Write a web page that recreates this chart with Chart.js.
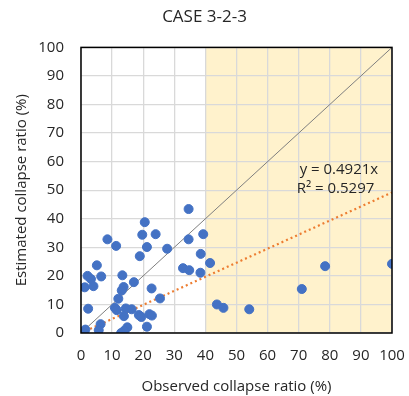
<!DOCTYPE html>
<html>
<head>
<meta charset="utf-8">
<script src="https://cdn.jsdelivr.net/npm/chart.js@4.4.0/dist/chart.umd.min.js"></script>
<style>
  html, body { margin: 0; padding: 0; background: #fff; }
  #wrap { width: 409px; height: 396px; }
</style>
</head>
<body>
<div id="wrap"><canvas id="chart" width="409" height="396"></canvas></div>
<script>
// observed (%) vs estimated (%) collapse ratio
const observed = [
  34.6, 20.5, 19.7, 24.0, 8.5, 11.3, 21.2, 27.7, 34.6, 39.3,
  38.5, 18.9, 5.1, 32.8, 34.8, 38.4, 2.1, 3.2, 6.5, 1.2,
  4.0, 13.3, 17.0, 13.7, 13.1, 22.7, 12.0, 25.4, 2.3, 10.9,
  11.5, 14.4, 16.3, 13.8, 18.6, 19.4, 22.0, 22.8, 6.3, 5.7,
  1.4, 0.7, 14.9, 13.9, 12.9, 21.2, 41.5, 43.7, 45.8, 54.1,
  71.0, 78.5, 100.0
];
const estimated = [
  43.4, 38.8, 34.4, 34.6, 32.8, 30.5, 30.1, 29.5, 32.8, 34.6,
  27.7, 26.9, 23.7, 22.7, 22.0, 21.1, 20.0, 18.9, 19.8, 16.0,
  16.4, 20.2, 17.8, 16.1, 14.9, 15.6, 12.0, 12.1, 8.5, 8.8,
  8.0, 8.6, 8.3, 5.9, 6.3, 5.6, 6.6, 6.1, 3.1, 1.0,
  1.2, 0.0, 2.0, 0.8, 0.0, 2.2, 24.5, 10.0, 8.8, 8.3,
  15.4, 23.4, 24.2
];
const slope = 0.4921;
const rSquared = 0.5297;
const axisTicks = [0, 10, 20, 30, 40, 50, 60, 70, 80, 90, 100];
const shadeFrom = 40;

const font = "'Open Sans', 'Liberation Sans', sans-serif";
const points = observed.map((x, i) => ({ x: x, y: estimated[i] }));

const shading = {
  id: "shading",
  beforeDraw(chart) {
    const { ctx, chartArea, scales } = chart;
    const x0 = scales.x.getPixelForValue(shadeFrom);
    ctx.save();
    ctx.fillStyle = "#FFF2CC";
    ctx.fillRect(x0, chartArea.top, chartArea.right - x0, chartArea.bottom - chartArea.top);
    ctx.restore();
  },
  afterDatasetsDraw(chart) {
    const { ctx, chartArea, scales } = chart;
    ctx.save();
    ctx.strokeStyle = "#000";
    ctx.lineWidth = 1.5;
    ctx.strokeRect(chartArea.left, chartArea.top, chartArea.right - chartArea.left, chartArea.bottom - chartArea.top);
    ctx.fillStyle = "#262626";
    ctx.font = "15px " + font;
    ctx.textBaseline = "middle";
    const tx = scales.x.getPixelForValue(70.3);
    ctx.fillText("y = " + slope + "x", tx, scales.y.getPixelForValue(57));
    ctx.fillText("R\u00b2 = " + rSquared, tx - 3, scales.y.getPixelForValue(50.6));
    ctx.restore();
  }
};

new Chart(document.getElementById("chart"), {
  type: "scatter",
  data: {
    datasets: [
      {
        label: "data",
        data: points,
        backgroundColor: "#4472C4",
        borderColor: "#4472C4",
        pointRadius: 4.5,
        order: 0,
      },
      {
        label: "1:1",
        type: "line",
        data: [{ x: 0, y: 0 }, { x: 100, y: 100 }],
        borderColor: "#7F7F7F",
        borderWidth: 1,
        pointRadius: 0,
        order: 2,
      },
      {
        label: "trend",
        type: "line",
        data: [{ x: 0, y: 0 }, { x: 100, y: slope * 100 }],
        borderColor: "#ED7D31",
        borderWidth: 2.2,
        borderDash: [2, 3],
        pointRadius: 0,
        order: 1,
      },
    ],
  },
  options: {
    responsive: false,
    animation: false,
    layout: { padding: 0 },
    plugins: {
      legend: { display: false },
      tooltip: { enabled: false },
      title: {
        display: true,
        text: "CASE 3-2-3",
        color: "#262626",
        font: { family: font, size: 17, weight: "normal" },
        padding: { top: 7, bottom: 20 },
      },
    },
    scales: {
      x: {
        type: "linear",
        min: 0,
        max: 100,
        afterBuildTicks: (s) => { s.ticks = axisTicks.map((v) => ({ value: v })); },
        afterFit: (s) => { s.height = 63; s.paddingRight = 17; s.paddingLeft = 0; },
        grid: { color: "#D9D9D9", lineWidth: 1.3, drawTicks: false },
        border: { display: false },
        ticks: {
          color: "#262626", padding: 14, maxRotation: 0, minRotation: 0, autoSkip: false,
          font: { family: font, size: 15 },
        },
        title: {
          display: true,
          text: "Observed collapse ratio (%)",
          color: "#262626",
          font: { family: font, size: 15 },
          padding: { top: 0, bottom: 0 },
        },
      },
      y: {
        type: "linear",
        min: 0,
        max: 100,
        afterBuildTicks: (s) => { s.ticks = axisTicks.map((v) => ({ value: v })); },
        afterFit: (s) => { s.width = 81; s.paddingTop = 0; s.paddingBottom = 0; },
        grid: { color: "#D9D9D9", lineWidth: 1.3, drawTicks: false },
        border: { display: false },
        ticks: { color: "#262626", padding: 17, autoSkip: false, font: { family: font, size: 15 } },
        title: {
          display: true,
          text: "Estimated collapse ratio (%)",
          color: "#262626",
          font: { family: font, size: 15 },
          padding: { top: 13, bottom: 0 },
        },
      },
    },
  },
  plugins: [shading],
});
</script>
</body>
</html>
